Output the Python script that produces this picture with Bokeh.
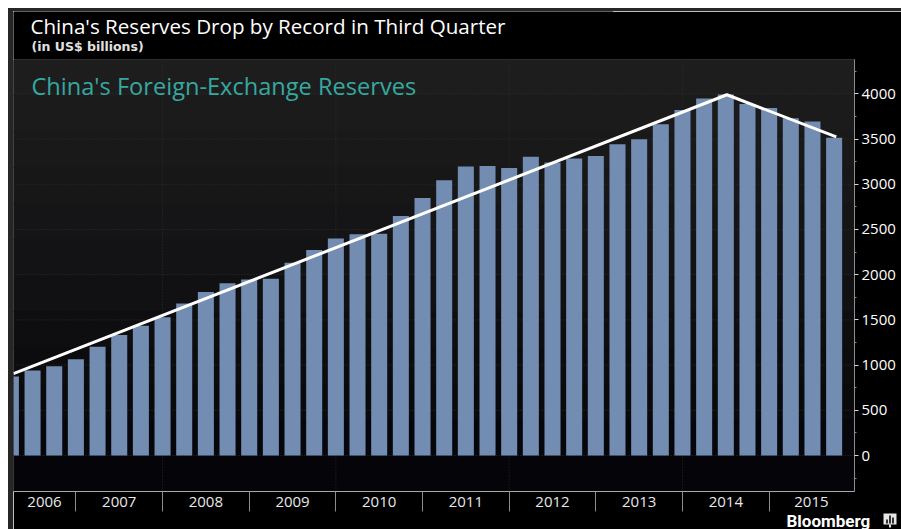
from bokeh.embed import file_html
from bokeh.resources import INLINE
from bokeh.plotting import figure
from bokeh.models import FixedTicker, Label, LinearAxis, Range1d

quarter_index = list(range(39))
reserves = [875, 941, 988, 1066,
            1202, 1332, 1434, 1528,
            1682, 1808, 1906, 1946,
            1954, 2132, 2273, 2399,
            2447, 2454, 2648, 2847,
            3044, 3197, 3202, 3181,
            3305, 3240, 3285, 3312,
            3442, 3497, 3663, 3821,
            3948, 3993, 3888, 3843,
            3730, 3694, 3514]
trend_x = [0.12, 33.05, 38.1]
trend_y = [905, 3990, 3525]

year_labels = ["2006", "2007", "2008", "2009", "2010",
               "2011", "2012", "2013", "2014", "2015"]
year_centres = [1.55, 5, 9, 13, 17, 21, 25, 29, 33, 36.95]
year_dividers = [3, 7, 11, 15, 19, 23, 27, 31, 35]
grid_years = [7, 15, 23, 31]
major_ticks = list(range(0, 4001, 500))
minor_ticks = list(range(-250, 4251, 500))

X0, X1 = 0.12, 38.94
Y0, Y1 = -398, 4380

p = figure(width=888, height=518, output_backend="svg", toolbar_location=None, title=None,
           x_range=Range1d(X0, X1), y_range=Range1d(Y0, Y1),
           min_border_left=0, min_border_right=52,
           min_border_top=48, min_border_bottom=41,
           x_axis_location=None, y_axis_location=None,
           background_fill_color="#17171a", border_fill_color="#000000",
           outline_line_color=None,
           styles={"margin-left": "8px", "margin-top": "8px",
                   "width": "893px", "height": "521px",
                   "border-left": "5px solid #262626", "border-top": "3px solid #262626"})
p.grid.visible = False

# Panel shading, darker towards the bottom
shades = ["#1d1d1e", "#1b1b1c", "#19191a", "#171718", "#151517", "#131315",
          "#111113", "#0e0e11", "#0c0c0f", "#0a0a0d", "#07070b", "#050509"]
band = (Y1 - Y0) / len(shades)
for n, shade in enumerate(shades):
    p.quad(left=X0, right=X1, top=Y1 - n * band, bottom=Y1 - (n + 1) * band,
           fill_color=shade, line_color=shade)

# Faint dotted grid behind the bars
p.segment(x0=[X0] * len(major_ticks), x1=[X1] * len(major_ticks), y0=major_ticks, y1=major_ticks,
          line_color="#2e2e30", line_width=1, line_dash="1 2")
p.segment(x0=grid_years, x1=grid_years, y0=[Y0] * len(grid_years), y1=[Y1] * len(grid_years),
          line_color="#2e2e30", line_width=1, line_dash="1 2")

p.vbar(x=quarter_index, top=reserves, bottom=0, width=0.74,
       fill_color="#738cb1", line_color=None)
p.line(trend_x, trend_y, line_color="#ffffff", line_width=3)

value_axis = LinearAxis(ticker=FixedTicker(ticks=major_ticks, minor_ticks=minor_ticks),
                        axis_line_color="#8c8c8c", axis_line_width=1,
                        major_tick_line_color="#d8d8d8", major_tick_in=0, major_tick_out=4,
                        minor_tick_line_color="#8c8c8c", minor_tick_in=0, minor_tick_out=2,
                        major_label_text_color="#ffffff", major_label_text_font="Open Sans",
                        major_label_text_font_size="15px", major_label_standoff=3)
p.add_layout(value_axis, "right")

# Calendar strip: year names between divider ticks
year_axis = LinearAxis(ticker=FixedTicker(ticks=year_centres, minor_ticks=year_dividers),
                       major_label_overrides=dict(zip(year_centres, year_labels)),
                       axis_line_color="#a8a8a8", axis_line_width=1,
                       major_tick_line_color=None, major_tick_in=0, major_tick_out=0,
                       minor_tick_line_color="#8c8c8c", minor_tick_in=0, minor_tick_out=20,
                       major_label_text_color="#e8e8e8", major_label_text_font="Open Sans",
                       major_label_text_font_size="15px", major_label_standoff=-15)
p.add_layout(year_axis, "below")

p.add_layout(Label(x=X0, y=Y1, x_offset=18, y_offset=-42,
                   text="China's Foreign-Exchange Reserves", text_color="#37a8a0",
                   text_font="Open Sans", text_font_size="23.6px"))

# Heading block above the panel
header = figure(width=600, height=48, output_backend="svg", toolbar_location=None, title=None,
                x_range=Range1d(0, 600), y_range=Range1d(0, 48),
                min_border=0, x_axis_location=None, y_axis_location=None,
                background_fill_color="#000000", border_fill_color="#000000",
                outline_line_color=None,
                styles={"position": "absolute", "left": "13px", "top": "11px"})
header.grid.visible = False
header.add_layout(Label(x=17, y=34, text="China's Reserves Drop by Record in Third Quarter",
                        text_baseline="alphabetic", text_color="#ffffff",
                        text_font="Open Sans", text_font_size="20.6px"))
header.add_layout(Label(x=18, y=13, text="(in US$ billions)", text_baseline="alphabetic",
                        text_color="#e0e0e0", text_font="DejaVu Sans",
                        text_font_style="bold", text_font_size="12.5px"))

# Wordmark with a small bar-chart badge in the bottom corner
badge_x = [100.5, 103.5, 106.5]
badge_h = [4, 8, 6]
mark = figure(width=115, height=29, output_backend="svg", toolbar_location=None, title=None,
              x_range=Range1d(0, 115), y_range=Range1d(0, 29),
              min_border=0, x_axis_location=None, y_axis_location=None,
              background_fill_alpha=0, border_fill_alpha=0,
              outline_line_color=None,
              styles={"position": "absolute", "left": "786px", "top": "500px"})
mark.grid.visible = False
mark.quad(left=[97, 102.5], right=[110, 104.5], top=[16, 5], bottom=[5, 2],
          fill_color="#e6e6e6", line_color=None)
mark.vbar(x=badge_x, top=[6 + h for h in badge_h], bottom=6, width=2, fill_color="#333333",
          line_color=None)
mark.add_layout(Label(x=0, y=8.3, text="Bloomberg", text_baseline="alphabetic",
                      text_color="#ffffff", text_font="Roboto",
                      text_font_style="bold", text_font_size="17px"))

open("out.html", "w").write(file_html((p, header, mark), INLINE))
